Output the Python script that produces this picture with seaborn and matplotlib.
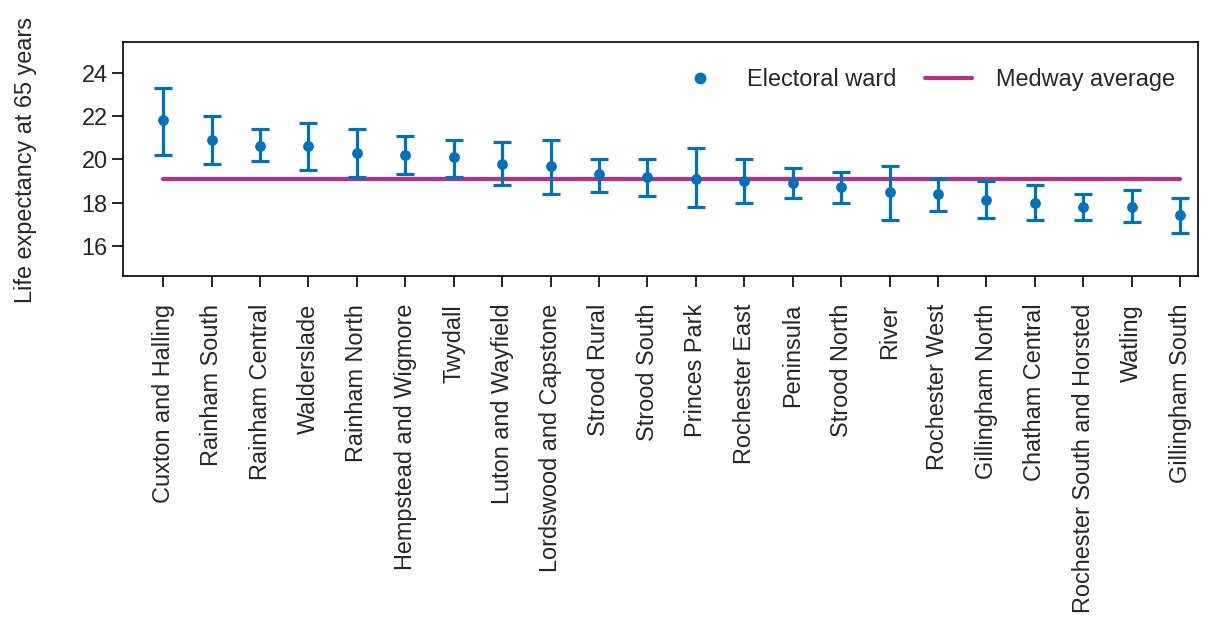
import matplotlib
matplotlib.use("Agg")
import matplotlib.pyplot as plt
import seaborn as sns
import pandas as pd
from matplotlib.lines import Line2D

wards = ["Cuxton and Halling", "Rainham South", "Rainham Central", "Walderslade",
         "Rainham North", "Hempstead and Wigmore", "Twydall", "Luton and Wayfield",
         "Lordswood and Capstone", "Strood Rural", "Strood South", "Princes Park",
         "Rochester East", "Peninsula", "Strood North", "River", "Rochester West",
         "Gillingham North", "Chatham Central", "Rochester South and Horsted",
         "Watling", "Gillingham South"]
life_exp = [21.8, 20.9, 20.6, 20.6, 20.3, 20.2, 20.1, 19.8, 19.7, 19.3, 19.2, 19.1,
            19.0, 18.9, 18.7, 18.5, 18.4, 18.1, 18.0, 17.8, 17.8, 17.4]
lower_ci = [20.2, 19.8, 19.9, 19.5, 19.2, 19.3, 19.2, 18.8, 18.4, 18.5, 18.3, 17.8,
            18.0, 18.2, 18.0, 17.2, 17.6, 17.3, 17.2, 17.2, 17.1, 16.6]
upper_ci = [23.3, 22.0, 21.4, 21.7, 21.4, 21.1, 20.9, 20.8, 20.9, 20.0, 20.0, 20.5,
            20.0, 19.6, 19.4, 19.7, 19.1, 19.0, 18.8, 18.4, 18.6, 18.2]
medway_avg = 19.1
y_ticks = [16, 18, 20, 22, 24]

BLUE = "#0071bc"
MAGENTA = "#bb2e87"
FS = 16.9

sns.set_style("white")
plt.rcParams['font.family'] = ['Liberation Sans', 'DejaVu Sans']

df = pd.DataFrame({"ward": wards, "le": life_exp, "lo": lower_ci, "hi": upper_ci})
df["pos"] = range(len(df))
df["avg"] = medway_avg

fig = plt.figure(figsize=(12.08, 6.21), dpi=100)
ax = fig.add_axes([0.1018, 0.5556, 0.8899, 0.3768])

# Medway average line
sns.lineplot(data=df, x="pos", y="avg", ax=ax, color=MAGENTA, linewidth=3, zorder=1)

# Error bars
ax.errorbar(df["pos"], df["le"], yerr=[df["le"] - df["lo"], df["hi"] - df["le"]],
            fmt="none", ecolor=BLUE, elinewidth=2.3, capsize=6.5, capthick=2.3, zorder=2)

# Points
sns.scatterplot(data=df, x="pos", y="le", ax=ax, color=BLUE, s=60, edgecolor=BLUE,
                linewidth=0, zorder=3)

ax.set_xlim(-0.83, 21.37)
ax.set_ylim(14.6, 25.43)
ax.set_xticks(df["pos"])
ax.set_xticklabels(wards, rotation=90, fontsize=FS)
ax.set_yticks(y_ticks)
ax.set_yticklabels([str(t) for t in y_ticks], fontsize=FS)
ax.tick_params(axis="both", which="both", direction="out", length=8, width=1.2,
               color="black", bottom=True, left=True, pad=3)
ax.tick_params(axis="x", pad=12)
ax.set_xlabel("")
ax.set_ylabel("Life expectancy at 65 years", fontsize=FS)
ax.yaxis.set_label_coords(-0.080, 0.495)
for s in ax.spines.values():
    s.set_color("black")
    s.set_linewidth(1.2)
    s.set_visible(True)

handles = [Line2D([0], [0], marker="o", color="none", markerfacecolor=BLUE,
                  markeredgecolor=BLUE, markersize=7.5, linestyle="none"),
           Line2D([0], [0], color=MAGENTA, linewidth=3)]
ax.legend(handles, ["Electoral ward", "Medway average"], loc="upper right", ncol=2,
          frameon=False, fontsize=FS, handlelength=2.0, handletextpad=1.0,
          columnspacing=1.25, bbox_to_anchor=(0.998, 0.98))

fig.savefig("out.png", dpi=100)
